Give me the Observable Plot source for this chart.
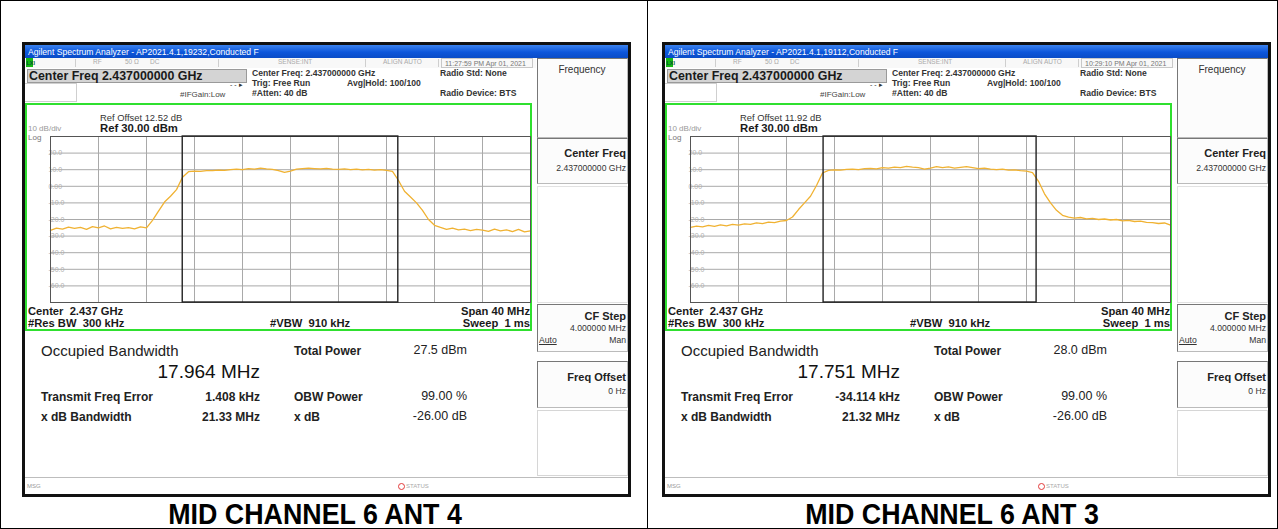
<!DOCTYPE html>
<html><head><meta charset="utf-8">
<script src="https://cdn.jsdelivr.net/npm/d3@7"></script>
<script src="https://cdn.jsdelivr.net/npm/@observablehq/plot@0.6"></script>
<style>
body{margin:0;background:#fff;font-family:"Liberation Sans",Arial,sans-serif;}
#root{position:relative;width:1278px;height:529px;overflow:hidden;background:#fff;}
.a{position:absolute;white-space:pre;line-height:1;}
.b{position:absolute;box-sizing:border-box;}
</style></head><body><div id="root"></div>
<script>
// ---- data ----
const freqMHz = [-20,-19.5,-19,-18.5,-18,-17.5,-17,-16.5,-16,-15.5,-15,-14.5,-14,-13.5,-13,-12.5,-12,-11.5,-11,-10.5,-10,-9.5,-9,-8.5,-8,-7.5,-7,-6.5,-6,-5.5,-5,-4.5,-4,-3.5,-3,-2.5,-2,-1.5,-1,-0.5,0,0.5,1,1.5,2,2.5,3,3.5,4,4.5,5,5.5,6,6.5,7,7.5,8,8.5,9,9.5,10,10.5,11,11.5,12,12.5,13,13.5,14,14.5,15,15.5,16,16.5,17,17.5,18,18.5,19,19.5,20];
const traceAnt4 = [-26.5,-25.2,-25.8,-24.6,-25.4,-24.8,-25.9,-24.3,-25.1,-23.9,-25.6,-24.7,-25.3,-24.9,-25.7,-24.4,-25.0,-20.5,-15.0,-9.5,-6.0,-2.0,5.5,8.8,9.2,9.0,9.5,9.4,9.8,9.6,10.0,10.3,10.1,10.6,10.4,10.9,10.5,10.2,9.5,8.4,9.2,10.3,10.6,10.9,10.7,10.5,10.8,10.4,10.2,10.5,10.1,10.3,9.9,10.2,9.8,10.0,9.6,9.0,3.5,-3.0,-6.5,-10.0,-14.5,-20.0,-23.5,-24.8,-26.0,-25.2,-26.3,-25.8,-26.7,-25.9,-26.4,-27.1,-25.8,-26.9,-26.2,-27.3,-26.0,-27.5,-26.8];
const traceAnt3 = [-24.8,-24.0,-24.5,-23.6,-24.1,-23.2,-23.8,-22.9,-23.4,-22.6,-22.9,-22.0,-22.5,-21.6,-21.9,-21.0,-20.6,-18.5,-14.0,-10.0,-6.0,0.5,8.0,9.6,9.9,9.7,10.2,10.4,10.1,10.6,10.8,10.5,11.2,11.0,11.6,11.3,12.0,11.5,11.2,10.4,11.0,11.9,11.3,11.7,11.0,11.4,11.8,11.2,10.6,10.9,10.4,10.1,10.3,9.7,9.9,9.4,9.1,8.3,3.0,-4.5,-10.0,-14.5,-17.5,-18.6,-19.2,-18.8,-19.6,-19.3,-20.0,-19.7,-20.3,-20.0,-20.8,-20.5,-21.2,-21.0,-21.7,-21.9,-22.4,-22.1,-23.4];
const xGrid = [-20,-16,-12,-8,-4,0,4,8,12,16,20];
const yGrid = [30,20,10,0,-10,-20,-30,-40,-50,-60,-70];
const yTicks = [20,10,0,-10,-20,-30,-40,-50,-60];
const yTickLabels = ["20.0","10.0","0.00","-10.0","-20.0","-30.0","-40.0","-50.0","-60.0"];
const captions = ["MID CHANNEL 6 ANT 4","MID CHANNEL 6 ANT 3"];
const windowTitles = ["Agilent Spectrum Analyzer - AP2021.4.1,19232,Conducted F","Agilent Spectrum Analyzer - AP2021.4.1,19112,Conducted F"];
const timestamps = ["11:27:59 PM Apr 01, 2021","10:29:10 PM Apr 01, 2021"];
const refOffsets = ["Ref Offset 12.52 dB","Ref Offset 11.92 dB"];
const obwMHz = [17.964, 17.751];
const obwLabels = ["17.964 MHz","17.751 MHz"];
const freqErrorKHz = [1.408, -34.114];
const freqErrorLabels = ["1.408 kHz","-34.114 kHz"];
const totalPowerLabels = ["27.5 dBm","28.0 dBm"];
const xdbBandwidthLabels = ["21.33 MHz","21.32 MHz"];
const traces = [traceAnt4, traceAnt3];

// ---- helpers ----
const root = document.getElementById("root");
function T(x, base, s, str, o = {}) {
  const d = document.createElement("div");
  d.className = "a";
  d.textContent = str;
  d.style.fontSize = s + "px";
  d.style.fontWeight = o.w || 400;
  d.style.color = o.c || "#222";
  d.style.top = (base - 0.847 * s) + "px";
  let tr = "";
  if (o.anchor === "end") d.style.right = (1278 - x) + "px";
  else { d.style.left = x + "px"; if (o.anchor === "middle") tr = "translateX(-50%)"; }
  if (o.sx) { tr += " scaleX(" + o.sx + ")"; d.style.transformOrigin = o.anchor === "middle" ? "50% 50%" : "0 0"; }
  if (tr) d.style.transform = tr;
  if (o.u) d.style.textDecoration = "underline";
  root.appendChild(d);
  return d;
}
function B(x, y, w, h, st = {}) {
  const d = document.createElement("div");
  d.className = "b";
  Object.assign(d.style, {left: x + "px", top: y + "px", width: w + "px", height: h + "px"}, st);
  root.appendChild(d);
  return d;
}

function spectrum(vals, lo, hi) {
  const data = freqMHz.map((f, i) => ({f, v: vals[i]}));
  return Plot.plot({
    width: 505, height: 228,
    marginLeft: 23, marginRight: 2, marginTop: 32, marginBottom: 30,
    x: {domain: [-20, 20], axis: null},
    y: {domain: [-70, 30], label: null},
    style: {background: "transparent", fontFamily: "Liberation Sans, Arial, sans-serif", overflow: "visible"},
    marks: [
      Plot.gridX(xGrid, {stroke: "#a9a9a9", strokeOpacity: 1}),
      Plot.gridY(yGrid, {stroke: "#a9a9a9", strokeOpacity: 1}),
      Plot.axisY(yTicks, {tickSize: 0, textAnchor: "start", dx: 7, fill: "#b0b0b0", fontSize: 7,
        tickFormat: d => yTickLabels[yTicks.indexOf(d)]}),
      Plot.line(data, {x: "f", y: "v", stroke: "#f0b232", strokeWidth: 1.3}),
      Plot.frame({stroke: "#555"}),
      Plot.rect([{lo, hi, b: -70, t: 30}], {x1: "lo", x2: "hi", y1: "b", y2: "t", fill: "none", stroke: "#222", strokeWidth: 1.4})
    ]
  });
}

// outer table
B(0, 0, 1278, 529, {border: "1px solid #000"});
B(647, 0, 1, 529, {background: "#000"});

function panel(i, dx, capX) {
  B(22 + dx, 42, 609, 455, {background: "#111"});
  B(25 + dx, 45, 603, 449, {background: "#fff"});
  B(25 + dx, 45, 603, 13, {background: "linear-gradient(#3b82ee,#0d56db 55%,#0a4cc6)"});
  T(28 + dx, 55, 8.6, windowTitles[i], {c: "#fff"});
  B(25 + dx, 58, 511, 10, {background: "#f8f8f8"});
  B(26 + dx, 58, 7, 9, {background: "#14b814"});
  T(26.5 + dx, 65.5, 5.5, "LXI", {c: "#053", w: 700});
  [75, 218, 365, 438].forEach(x => B(x + dx, 59, 1, 8, {background: "#cfcfcf"}));
  T(93 + dx, 65, 6.5, "RF", {c: "#aaa"});
  T(125 + dx, 65, 6.5, "50 Ω", {c: "#aaa"});
  T(150 + dx, 65, 6.5, "DC", {c: "#aaa"});
  T(278 + dx, 65, 6.5, "SENSE:INT", {c: "#aaa"});
  T(383 + dx, 65, 6.5, "ALIGN AUTO", {c: "#aaa"});
  B(441 + dx, 58, 92, 10, {border: "1px solid #c8c8c8"});
  T(445 + dx, 65.5, 7, timestamps[i], {c: "#777"});
  B(27 + dx, 69, 220, 14, {background: "#d4d4d4", border: "1px solid #9a9a9a"});
  T(29 + dx, 80.5, 12.4, "Center Freq 2.437000000 GHz", {w: 700, c: "#1a1a1a"});
  B(25 + dx, 83, 52, 19, {border: "1px solid #cfcfcf", borderLeft: "none"});
  T(180 + dx, 98, 8, "#IFGain:Low", {c: "#444"});
  T(230 + dx, 86.5, 7, "- - ▸", {c: "#333"});
  T(252 + dx, 76, 8.6, "Center Freq: 2.437000000 GHz", {w: 700, c: "#333"});
  T(252 + dx, 86, 8.6, "Trig: Free Run", {w: 700, c: "#333"});
  T(347 + dx, 86, 8.6, "Avg|Hold: 100/100", {w: 700, c: "#333"});
  T(252 + dx, 96, 8.6, "#Atten: 40 dB", {w: 700, c: "#333"});
  T(440 + dx, 76, 8.6, "Radio Std: None", {w: 700, c: "#333"});
  T(440 + dx, 96, 8.6, "Radio Device: BTS", {w: 700, c: "#333"});
  B(25 + dx, 103, 507, 228, {border: "2px solid #2fe02f"});
  T(28 + dx, 132, 8, "10 dB/div", {c: "#9a9a9a"});
  T(28 + dx, 141, 8, "Log", {c: "#777"});
  T(100 + dx, 121, 9.4, refOffsets[i], {c: "#333"});
  T(100 + dx, 132.5, 11.3, "Ref 30.00 dBm", {w: 700, c: "#1a1a1a"});
  const center = freqErrorKHz[i] / 1000;
  const svg = spectrum(traces[i], center - obwMHz[i] / 2, center + obwMHz[i] / 2);
  const holder = document.createElement("div");
  holder.style.cssText = `position:absolute;left:${27 + dx}px;top:104px;`;
  holder.appendChild(svg);
  root.appendChild(holder);
  T(28 + dx, 315, 11.2, "Center  2.437 GHz", {w: 700, c: "#1a1a1a"});
  T(28 + dx, 327, 11.2, "#Res BW  300 kHz", {w: 700, c: "#1a1a1a"});
  T(270 + dx, 327, 11.2, "#VBW  910 kHz", {w: 700, c: "#1a1a1a"});
  T(530 + dx, 315, 11.2, "Span 40 MHz", {w: 700, c: "#1a1a1a", anchor: "end"});
  T(530 + dx, 327, 11.2, "Sweep  1 ms", {w: 700, c: "#1a1a1a", anchor: "end"});
  T(41 + dx, 356, 15, "Occupied Bandwidth", {c: "#222"});
  T(260 + dx, 378.5, 19, obwLabels[i], {c: "#111", anchor: "end"});
  T(294 + dx, 355, 12, "Total Power", {w: 700, c: "#222"});
  T(467 + dx, 355, 12.5, totalPowerLabels[i], {c: "#222", anchor: "end"});
  T(41 + dx, 401, 12, "Transmit Freq Error", {w: 700, c: "#222"});
  T(260 + dx, 401, 12, freqErrorLabels[i], {w: 700, c: "#222", anchor: "end"});
  T(294 + dx, 401, 12, "OBW Power", {w: 700, c: "#222"});
  T(467 + dx, 401, 12.5, "99.00 %", {c: "#222", anchor: "end"});
  T(41 + dx, 421, 12, "x dB Bandwidth", {w: 700, c: "#222"});
  T(260 + dx, 421, 12, xdbBandwidthLabels[i], {w: 700, c: "#222", anchor: "end"});
  T(294 + dx, 421, 12, "x dB", {w: 700, c: "#222"});
  T(467 + dx, 421, 12.5, "-26.00 dB", {c: "#222", anchor: "end"});
  const sk = {background: "#fcfcfc", borderTop: "1px solid #777", borderLeft: "1px solid #777", borderRight: "1px solid #bbb", borderBottom: "1px solid #bbb"};
  B(537 + dx, 58, 91, 80, sk);
  T(582 + dx, 73, 10, "Frequency", {c: "#333", anchor: "middle"});
  B(537 + dx, 138, 91, 46, sk);
  T(626 + dx, 157, 11, "Center Freq", {w: 700, c: "#222", anchor: "end"});
  T(626 + dx, 171, 8.6, "2.437000000 GHz", {c: "#333", anchor: "end"});
  B(537 + dx, 186, 91, 117, {border: "1px solid #e2e2e2"});
  B(537 + dx, 304, 91, 48, sk);
  T(626 + dx, 320, 11, "CF Step", {w: 700, c: "#222", anchor: "end"});
  T(626 + dx, 331.5, 8.6, "4.000000 MHz", {c: "#333", anchor: "end"});
  T(539 + dx, 343.5, 8.6, "Auto", {c: "#333", u: true});
  T(626 + dx, 343.5, 8.6, "Man", {c: "#333", anchor: "end"});
  B(537 + dx, 361, 91, 47, sk);
  T(626 + dx, 381, 11, "Freq Offset", {w: 700, c: "#222", anchor: "end"});
  T(626 + dx, 394, 8.6, "0 Hz", {c: "#333", anchor: "end"});
  B(537 + dx, 410, 91, 66, {border: "1px solid #d6d6d6"});
  B(25 + dx, 477, 603, 1, {background: "#bdbdbd"});
  T(27 + dx, 488, 6, "MSG", {c: "#999"});
  B(398 + dx, 483, 7, 7, {borderRadius: "50%", border: "1.5px solid #e23a3a"});
  T(406 + dx, 488, 6, "STATUS", {c: "#aaa"});
  T(capX, 525, 29, captions[i], {w: 700, c: "#000", anchor: "middle", sx: 0.925});
}
panel(0, 0, 314.5);
panel(1, 640, 952);
</script></body></html>
